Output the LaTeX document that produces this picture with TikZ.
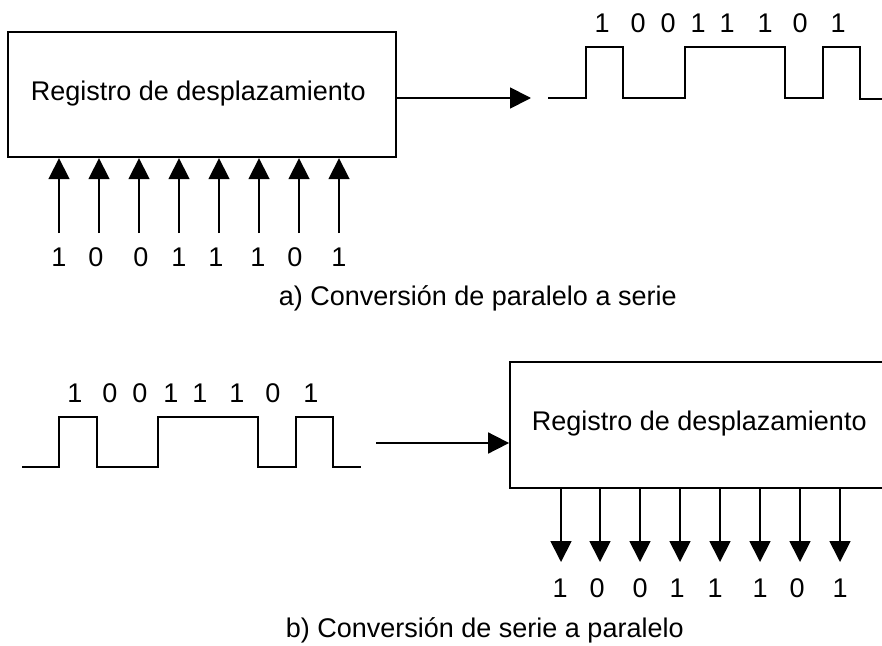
\documentclass[tikz,border=0pt]{standalone}
\usepackage{fontspec}
\setmainfont{Liberation Sans}
\usetikzlibrary{arrows.meta}
\begin{document}
\begin{tikzpicture}[x=1pt,y=-1pt,
  line width=1.8pt,
  arr/.style={-{Triangle[length=21pt,width=21pt]}},
  txt/.style={inner sep=0pt,font=\fontsize{27}{31}\selectfont},
  dig/.style={txt,anchor=base},
  regbox/.style={draw,rectangle,inner sep=0pt}]
\useasboundingbox (0,0) rectangle (882,645);
\clip (0,0) rectangle (882,645);
% ---------- a) parallel to serial ----------
\node[regbox,minimum width=388pt,minimum height=125.6pt] (box) at (202,94.5) {};
\node[txt,anchor=base west] (boxtxt) at (30,100) {Registro de desplazamiento};
\foreach \x/\d/\lx [count=\i] in {59/1/59,99/0/96,139/0/141,179/1/179,219/1/216,259/1/258,299/0/295,339/1/339}{
  \coordinate (u\i) at (\x,233);
  \draw[arr] (u\i) -- (u\i |- box.south);
  \node[dig] (ud\i) at (\lx,266) {\d};
}
\coordinate (aend) at (531,98);
\draw[arr] (box.east |- aend) -- (aend);
\draw (548,98) -- (586,98) -- (586,47) -- (623,47) -- (623,98) -- (685,98) -- (685,47)
  -- (785,47) -- (785,98) -- (823,98) -- (823,47) -- (860,47) -- (860,99) -- (890,99);
\foreach \x/\d [count=\i] in {602/1,638/0,668/0,698/1,727/1,765/1,800/0,838/1}{
  \node[dig] (wa\i) at (\x,32) {\d};
}
\node[txt,anchor=base west] (capa) at (278,305) {a) Conversión de paralelo a serie};
% ---------- b) serial to parallel ----------
\draw (22,467) -- (59,467) -- (59,417) -- (97,417) -- (97,467) -- (158,467) -- (158,417)
  -- (258,417) -- (258,467) -- (296,467) -- (296,417) -- (333,417) -- (333,467) -- (361,467);
\foreach \x/\d [count=\i] in {75/1,110/0,140/0,171/1,200/1,237/1,273/0,311/1}{
  \node[dig] (wb\i) at (\x,402) {\d};
}
\node[regbox,minimum width=390pt,minimum height=126pt] (box2) at (705,425) {};
\node[txt,anchor=base west] (box2txt) at (531,430) {Registro de desplazamiento};
\coordinate (bstart) at (376,443);
\draw[arr] (bstart) -- (box2.west |- bstart);
\foreach \x/\d/\lx [count=\i] in {561/1/560,600/0/597,640/0/640,680/1/677,720/1/715,760/1/760,800/0/797,840/1/840}{
  \coordinate (d\i) at (\x,562);
  \draw[arr] (d\i |- box2.south) -- (d\i);
  \node[dig] (dd\i) at (\lx,597) {\d};
}
\node[txt,anchor=base west] (capb) at (285,637) {b) Conversión de serie a paralelo};
\end{tikzpicture}
\end{document}
